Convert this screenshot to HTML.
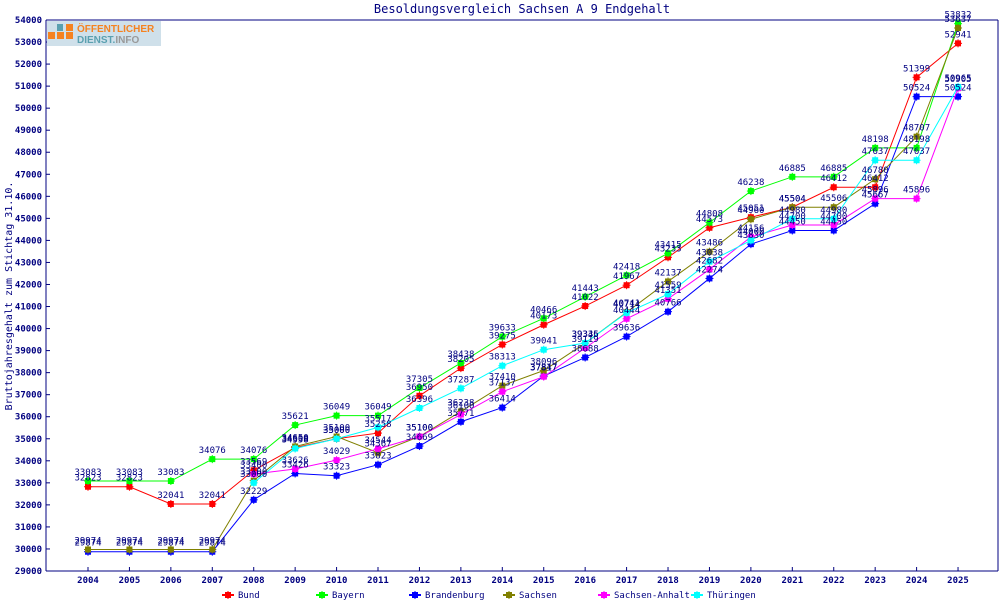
<!DOCTYPE html><html><head><meta charset="utf-8"><style>body{margin:0;background:#fff}svg{display:block}text{font-family:"DejaVu Sans Mono","Liberation Mono",monospace;fill:#000080}</style></head><body>
<svg id="s" width="1000" height="600" xmlns="http://www.w3.org/2000/svg">
<rect width="1000" height="600" fill="#fff"/>
<text x="522" y="13" font-size="12" text-anchor="middle">Besoldungsvergleich Sachsen A 9 Endgehalt</text>
<g id="g"></g>
<rect x="47" y="21" width="114" height="25" fill="#cfe0ea"/>
<rect x="48" y="32" width="7" height="7" fill="#f58220"/><rect x="57" y="32" width="7" height="7" fill="#f58220"/><rect x="66" y="32" width="7" height="7" fill="#f58220"/>
<rect x="66" y="24" width="7" height="7" fill="#f58220"/><rect x="57" y="24" width="6" height="7" fill="#5aa0b0"/>
<text x="77" y="32" font-size="10" font-weight="bold" style="fill:#f58220;font-family:'Liberation Sans',sans-serif">ÖFFENTLICHER</text>
<text x="77" y="43" font-size="10" font-weight="bold" style="fill:#5aa0b0;font-family:'Liberation Sans',sans-serif">DIENST.<tspan style="fill:#999">INFO</tspan></text>
</svg>
<script>
const L=46,R=998,T=20,B=571;
const X=i=>88+i*41.43, Y=v=>T+(54000-v)*(B-T)/25000;
let h='';
h+=`<line x1="${L}" y1="${T}" x2="${R}" y2="${T}" stroke="#000080"/><line x1="${L}" y1="${T}" x2="${L}" y2="${B}" stroke="#000080"/><line x1="${L}" y1="${B}" x2="${R}" y2="${B}" stroke="#000080"/><line x1="${R}" y1="${T}" x2="${R}" y2="${B}" stroke="#000080"/>`;
for(let v=29000;v<=54000;v+=1000){const y=Y(v);h+=`<line x1="${L}" y1="${y}" x2="${L+4}" y2="${y}" stroke="#000080"/><text x="42" y="${y+3}" font-size="9" text-anchor="end" font-weight="bold">${v}</text>`}
for(let i=0;i<22;i++){const x=X(i);h+=`<line x1="${x}" y1="${B}" x2="${x}" y2="${B-4}" stroke="#000080"/><text x="${x}" y="${B+12}" font-size="9" text-anchor="middle" font-weight="bold">${2004+i}</text>`}
h+=`<text transform="translate(12,296) rotate(-90)" font-size="10" text-anchor="middle">Bruttojahresgehalt zum Stichtag 31.10.</text>`;
const S=[
["Bund","#ff0000",[32823,32823,32041,32041,33569,34600,35000,35258,36950,38205,39275,40173,41022,41967,43233,44573,45051,45504,46412,46412,51399,52941]],
["Bayern","#00ff00",[33083,33083,33083,34076,34076,35621,36049,36049,37305,38438,39633,40466,41443,42418,43415,44808,46238,46885,46885,48198,48198,53832]],
["Brandenburg","#0000ff",[29874,29874,29874,29874,32229,33426,33323,33823,34669,35771,36414,37847,38688,39636,40766,42274,43830,44450,44450,45667,50524,50524]],
["Sachsen","#808000",[29974,29974,29974,29974,33100,34650,35100,34367,35100,36238,37410,38096,39336,40741,42137,43486,44960,45504,45506,46780,48707,53637]],
["Sachsen-Anhalt","#ff00ff",[null,null,null,null,33400,33626,34029,34544,35100,36100,37137,37817,39119,40444,41351,42682,44156,44700,44700,45896,45896,50905]],
["Thüringen","#00ffff",[null,null,null,null,33000,34558,35000,35517,36396,37287,38313,39041,39345,40714,41559,43038,44000,44980,44980,47637,47637,50965]]];
const mk=(x,y,c)=>`<rect x="${x-3}" y="${y-3}" width="6" height="6" fill="${c}"/><line x1="${x-4}" y1="${y}" x2="${x+4}" y2="${y}" stroke="${c}"/><line x1="${x}" y1="${y-4}" x2="${x}" y2="${y+4}" stroke="${c}"/>`;
let lab='';
S.forEach(([n,c,d],k)=>{let p=[];d.forEach((v,i)=>{if(v!=null)p.push(X(i)+','+Y(v))});
h+=`<polyline points="${p.join(' ')}" fill="none" stroke="${c}" stroke-width="1"/>`;
d.forEach((v,i)=>{if(v==null)return;const x=X(i),y=Y(v);h+=mk(x,y,c);lab+=`<text x="${x}" y="${y-6}" font-size="9" text-anchor="middle">${v}</text>`});
const lx=[222,316,409,503,598,691][k];h+=`<line x1="${lx}" y1="595" x2="${lx+12}" y2="595" stroke="${c}" stroke-width="2"/>`+mk(lx+6,595,c)+`<text x="${lx+16}" y="598" font-size="9">${n}</text>`;});
document.getElementById('g').innerHTML=h+lab;
</script></body></html>
